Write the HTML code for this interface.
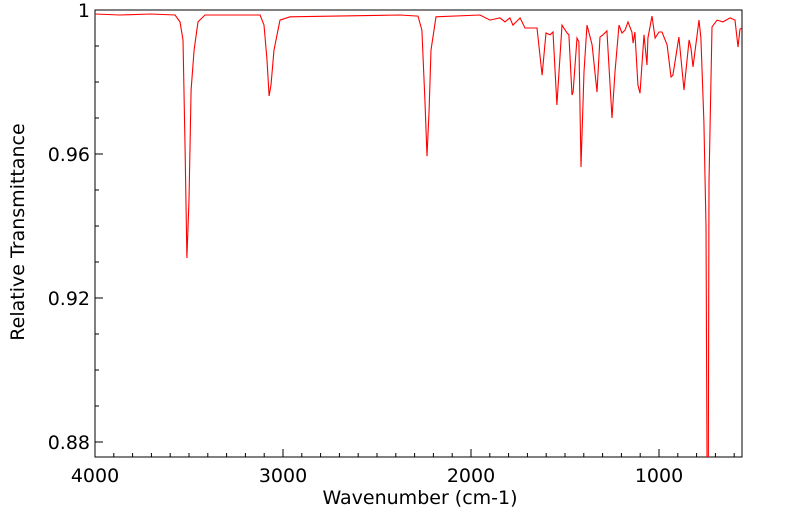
<!DOCTYPE html>
<html><head><meta charset="utf-8"><style>
body{margin:0;background:#fff;}
svg text{font-family:"DejaVu Sans","Liberation Sans",sans-serif;fill:#000;}
</style></head><body>
<svg id="chart" width="799" height="516" xmlns="http://www.w3.org/2000/svg">
<defs><clipPath id="pc"><rect x="95" y="10" width="647" height="447"/></clipPath></defs>
<rect x="95" y="10" width="647" height="447" fill="#fff" stroke="#000" stroke-width="1"/>
<g id="axes"></g>
<path id="series" fill="none" stroke="#ff0000" stroke-width="1.1" clip-path="url(#pc)"/>
<text x="420" y="504" font-size="19" text-anchor="middle">Wavenumber (cm-1)</text>
<text transform="translate(24,232) rotate(-90)" font-size="19" text-anchor="middle">Relative Transmittance</text>
</svg>
<script>
const wavenumbers=[4000,3867,3707,3574,3548,3532,3521,3511,3500,3489,3473,3452,3415,3122,3101,3085,3074,3064,3048,3016,2963,2378,2282,2261,2245,2234,2223,2213,2186,1952,1899,1846,1819,1793,1777,1739,1713,1676,1649,1622,1601,1580,1564,1543,1516,1489,1479,1463,1457,1436,1426,1415,1399,1383,1356,1330,1314,1298,1277,1250,1234,1213,1197,1181,1165,1144,1138,1128,1112,1101,1080,1064,1059,1037,1021,1000,984,957,936,926,894,867,840,830,819,787,777,761,750,744,738,734,718,691,660,622,596,580,569,558];
const transmittance=[0.9989,0.9986,0.9989,0.9986,0.9967,0.9917,0.9611,0.9311,0.9472,0.9778,0.9889,0.9967,0.9986,0.9986,0.9958,0.9861,0.9761,0.9792,0.9889,0.9972,0.9981,0.9986,0.9983,0.9944,0.9750,0.9594,0.9722,0.9889,0.9981,0.9986,0.9972,0.9978,0.9967,0.9978,0.9958,0.9978,0.9950,0.9950,0.9950,0.9819,0.9936,0.9931,0.9939,0.9736,0.9958,0.9936,0.9931,0.9764,0.9772,0.9922,0.9911,0.9564,0.9828,0.9958,0.9903,0.9772,0.9925,0.9931,0.9942,0.9700,0.9828,0.9958,0.9936,0.9944,0.9967,0.9939,0.9908,0.9939,0.9792,0.9769,0.9931,0.9847,0.9922,0.9983,0.9922,0.9939,0.9939,0.9903,0.9814,0.9819,0.9925,0.9778,0.9917,0.9894,0.9842,0.9972,0.9922,0.9689,0.9400,0.8700,0.8700,0.9522,0.9953,0.9972,0.9967,0.9978,0.9972,0.9897,0.9947,0.9950];
const xTicks=[4000,3000,2000,1000];
const yTicks=[0.88,0.92,0.96,1];
const X0=95,X1=742,Y0=10,Y1=457;
const WN_MAX=4000,WN_MIN=558.5,T_MAX=1,T_MIN=0.87583;
function xs(w){return X0+(WN_MAX-w)/(WN_MAX-WN_MIN)*(X1-X0);}
function ys(t){return Y0+(T_MAX-t)/(T_MAX-T_MIN)*(Y1-Y0);}
const NS="http://www.w3.org/2000/svg";
const ax=document.getElementById('axes');
function mk(tag,attrs){const e=document.createElementNS(NS,tag);for(const k in attrs)e.setAttribute(k,attrs[k]);return e;}
for(let w=4000;w>=WN_MIN;w-=100){
  const major=w%1000===0;
  const l=mk('line',{x1:xs(w),x2:xs(w),y1:Y1,y2:Y1-(major?8:4),stroke:'#000'});
  
  
  ax.appendChild(l);
}
xTicks.forEach(w=>{
  const t=mk('text',{x:xs(w),y:Y1+25,'font-size':19,'text-anchor':'middle'});
  t.textContent=String(w);
  
  
  ax.appendChild(t);
});
for(let i=0;i<=12;i++){
  const v=0.88+i*0.01;
  const major=i%4===0;
  const l=mk('line',{x1:X0,x2:X0+(major?8:4),y1:ys(v),y2:ys(v),stroke:'#000'});
  
  
  ax.appendChild(l);
}
yTicks.forEach(v=>{
  const t=mk('text',{x:X0-5,y:ys(v)+7,'font-size':19,'text-anchor':'end'});
  t.textContent=v===1?'1':v.toFixed(2);
  
  
  ax.appendChild(t);
});
let d='';
wavenumbers.forEach((w,i)=>{d+=(i?'L':'M')+xs(w).toFixed(1)+','+ys(transmittance[i]).toFixed(1);});
document.getElementById('series').setAttribute('d',d);
</script>
</body></html>
